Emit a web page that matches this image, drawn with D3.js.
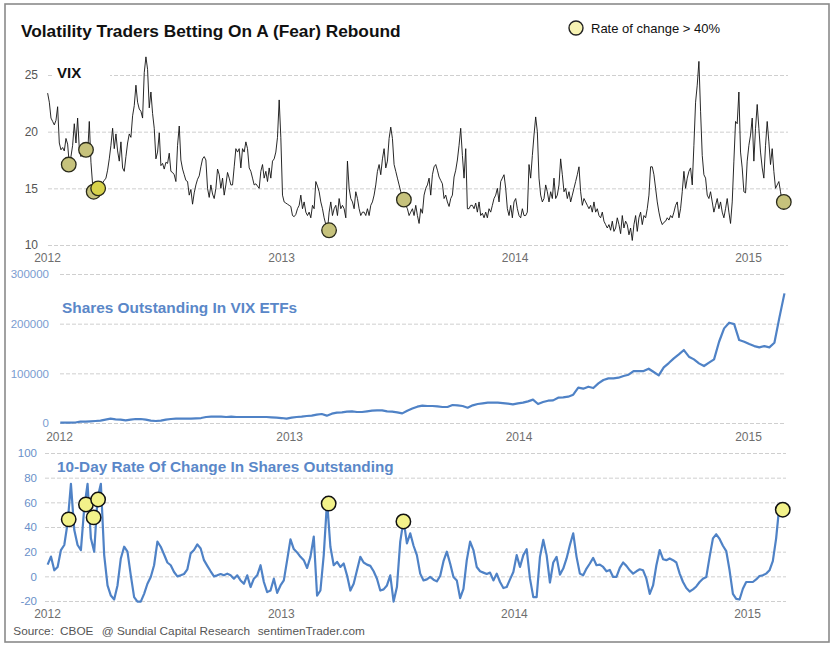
<!DOCTYPE html>
<html><head><meta charset="utf-8">
<script src="https://cdn.jsdelivr.net/npm/d3@7"></script>
<style>
html,body{margin:0;padding:0;background:#fff;}
svg{display:block;font-family:"Liberation Sans",Arial,Helvetica,sans-serif;}
</style></head><body>
<svg id="chart" width="835" height="647"></svg>
<script>
// ---------------- DATA ----------------
const yearTicks = ["2012-01-01", "2013-01-01", "2014-01-01", "2015-01-01"];

// VIX close, sampled every ~2.6 days from 2012-01-02
const vixStart = "2012-01-02";
const vixStepHours = 62.5;
const vixValues = [
23.4,22.6,21.2,20.9,20.6,21.0,22.2,19.0,18.4,18.6,
18.3,19.4,18.9,17.1,17.8,18.8,20.7,19.0,21.2,18.5,
17.8,18.6,18.0,18.4,18.0,20.9,17.3,15.3,14.8,15.2,
15.0,14.9,15.2,15.5,15.7,15.9,16.6,17.6,18.8,20.3,
18.5,19.8,18.3,17.4,19.1,16.8,16.5,17.8,19.0,19.8,
19.5,21.4,22.3,24.1,22.6,22.0,21.8,21.2,25.2,26.6,
25.5,22.1,23.5,21.6,20.3,17.6,18.2,19.9,17.0,17.2,
16.7,17.3,17.2,18.1,16.5,16.4,16.2,15.6,18.8,20.5,
17.5,16.7,16.2,15.7,15.6,14.4,14.9,13.6,14.6,15.3,
15.8,16.1,16.9,17.6,17.8,17.5,15.0,14.2,15.3,14.5,
14.1,15.0,16.7,16.2,15.0,15.9,14.4,15.3,16.4,15.9,
15.3,15.3,16.9,18.5,18.2,18.5,16.8,18.5,18.2,19.1,
18.5,16.8,16.5,15.9,15.3,15.4,15.2,15.0,16.5,17.1,
15.9,16.5,15.6,16.8,15.9,17.4,17.6,18.2,19.5,22.8,
19.5,14.4,13.8,13.7,13.6,13.5,13.4,12.6,12.5,12.7,
13.2,13.5,14.4,13.2,13.8,12.9,12.6,12.9,12.4,13.5,
13.2,15.6,15.2,14.7,13.8,13.2,12.4,11.8,11.3,12.9,
13.8,12.6,13.2,13.5,12.6,14.1,13.2,13.5,13.2,12.4,
17.4,15.0,14.1,13.8,13.2,14.7,14.1,13.2,12.6,12.9,
12.9,12.6,13.2,12.6,13.5,13.8,14.4,15.3,16.5,17.1,
16.2,17.6,18.5,16.8,17.4,19.4,20.4,19.4,17.1,16.5,
15.9,15.3,14.7,14.1,14.0,13.5,13.2,12.6,12.9,13.2,12.6,13.5,
12.6,11.9,13.2,12.8,14.4,15.0,15.3,15.9,14.4,16.2,
16.9,17.1,16.6,16.0,15.7,15.4,14.1,14.4,13.8,13.4,
14.1,14.4,16.0,16.6,17.5,18.8,20.3,17.9,15.9,18.5,
13.2,13.2,13.5,13.5,13.2,13.7,12.9,13.8,12.6,12.8,
12.4,12.9,12.4,13.2,12.9,13.5,14.1,14.4,15.0,13.8,
15.6,15.9,16.2,15.0,13.2,12.6,13.5,12.4,13.8,14.1,
13.2,12.6,12.4,13.2,12.6,12.6,12.9,17.1,15.9,17.9,
19.7,21.3,20.0,15.9,14.4,13.8,14.1,15.3,14.7,13.8,
14.7,14.1,15.9,14.1,14.4,15.3,17.6,16.2,14.7,15.0,
14.1,14.7,13.8,14.4,15.0,15.6,16.2,16.9,14.7,13.5,
14.1,13.8,13.5,13.2,13.5,12.9,13.8,12.9,13.2,12.6,
12.4,12.9,12.1,11.8,11.5,11.8,11.3,12.1,11.2,11.5,
12.4,11.8,11.0,12.6,11.5,12.1,11.8,10.9,11.5,10.4,
11.8,12.6,11.2,12.4,12.9,11.8,12.6,12.4,13.2,14.4,
16.9,16.9,16.2,15.0,13.8,12.9,12.2,11.8,12.0,12.1,
12.4,12.2,12.6,12.4,12.9,13.5,13.8,12.4,13.2,14.7,
16.5,15.0,15.9,16.5,16.8,15.3,18.8,22.6,24.1,26.2,
21.8,17.9,16.2,15.9,14.4,14.1,14.7,13.8,12.9,13.5,
14.1,13.2,13.8,12.9,12.4,13.2,14.1,12.9,11.9,13.8,
17.4,20.9,20.7,23.5,18.2,16.8,14.7,14.6,17.4,18.8,
19.7,21.2,17.4,20.3,22.4,20.3,18.2,16.8,15.9,18.8,
20.9,19.1,17.1,18.5,16.5,15.0,15.3,15.6,14.7,13.8
];

// Shares outstanding in VIX ETFs (thousands), every 8 days from 2012-01-03
const sharesStart = "2012-01-03";
const sharesStepDays = 8;
const sharesValues = [
0.7,0.7,0.8,1.0,2.7,2.7,3.4,4.0,4.7,6.7,
8.7,7.4,6.7,5.4,6.7,8.0,8.0,6.7,4.7,4.0,
4.7,6.7,8.0,8.7,8.7,8.7,8.7,9.4,10.0,12.1,
12.7,12.7,12.7,12.1,12.7,12.1,12.1,12.1,12.1,12.1,
12.1,12.1,11.4,10.7,10.0,8.7,10.7,12.1,12.7,14.1,
14.8,16.8,18.1,14.8,18.8,20.8,21.5,22.8,23.5,22.1,
22.1,23.5,24.8,25.5,25.5,23.5,22.8,21.5,19.4,24.8,
29.0,32.9,34.9,34.2,34.2,33.5,32.2,32.2,36.2,35.5,
34.2,30.8,35.5,38.2,39.6,40.9,40.9,40.9,40.2,38.9,
37.5,39.6,40.9,43.6,47.0,38.2,42.2,44.9,45.6,51.0,
51.6,53.0,57.0,71.1,69.1,73.1,70.4,79.8,86.5,89.9,
89.9,91.2,94.6,97.2,104.6,104.6,104.6,109.3,102.6,95.9,
112.0,120.7,130.1,138.1,146.9,133.5,128.1,120.1,114.7,121.4,
128.1,163.6,190.5,201.9,199.2,167.0,163.6,158.9,154.9,152.2,
154.9,152.2,161.6,212.6,261.0
];

// 10-day rate of change in shares outstanding (%), every ~5.2 days from 2012-01-02
const rocStart = "2012-01-02";
const rocStepHours = 125;
const rocValues = [
9.5,16,4.9,7.6,21.3,25.4,43.1,75,37.7,25.4,
21.3,55.4,75,30.8,20,63.6,75,17.2,-7.4,-15.6,
-18.8,-7.4,14.5,24,20,0.8,-16.9,-20.5,-20.5,-14.2,
-6,-0.5,9,28.1,24,17.7,11.2,9,3.5,0,
0.8,1.9,5.7,18.6,21.3,25.9,22.6,13.1,8.5,4.1,
0,0.8,1.9,0.8,2.2,0.8,-1.9,0.8,-3.3,-6,
0.8,-8.7,-1.9,0.8,9,-4.6,-12.8,-11.5,-1.9,-13.4,
-7.4,-3.3,13.1,30,22.1,19.4,15.8,13.1,6.8,15.8,
32.2,-15.6,-11.5,17.2,61,24,9,11.7,7.6,10.4,
0.8,-11.5,-6,4.9,15.8,11.2,9.5,8.5,4.1,-1.9,
-11.5,-10.6,-7.4,0.8,-20.5,-8.7,28.1,45.8,26.7,34.9,24.8,
17.2,2.2,-3.3,-2.5,-0.5,-2.7,-4.1,0.3,12.3,20,
10.4,-0.5,-3.3,-17.7,-10.1,13.1,28.1,21.3,7.6,4.1,
3,1.9,3,-3.3,2.2,-4.6,-9.5,-8.7,-2.5,3.5,
17.2,7.6,17.2,22,-1.9,-16.9,-16.9,15.8,29.5,17.2,
-5,11.2,15.8,1.4,6.3,14.5,25.4,34.9,15.8,2.2,
0.8,6.3,10.4,15,9,9.5,7.6,4.1,5.2,-0.5,
-0.5,6.8,11.2,8.5,4.9,2.2,4.1,5.7,4.9,-1.9,
-14.2,-7.4,9,21.3,13.9,13.1,14.5,13.1,11.2,2.2,
-4.6,-9.5,-12.3,-10.6,-8.2,-4.6,-1.9,-0.5,15.8,30.8,
34.1,30.3,24.8,20.5,4.9,-14.2,-18.3,-18.8,-10.1,-4.6,
-4.6,-4.6,-2.5,0.3,0.8,2.2,4.9,12.3,30.8,58.1
];

// Signals: 10-day rate of change > 40%
const markerDates = ["2012-02-04", "2012-03-02", "2012-03-14", "2012-03-21", "2013-03-17", "2013-07-12", "2015-02-26"];
const markerVix = [17.1, 18.4, 14.7, 15.0, 11.3, 14.0, 13.8];
const markerRoc = [46.2, 58.3, 47.8, 62.3, 59.0, 44.5, 54.0];

const vixTicks = [10, 15, 20, 25];
const sharesTicks = [0, 100, 200, 300];   // thousands
const rocTicks = [-20, 0, 20, 40, 60, 80, 100];

// ---------------- CHART ----------------
const parse = d3.timeParse("%Y-%m-%d");
const svg = d3.select("#chart");
const BLUE = "#4f82c6";
const FONT = '"Liberation Sans", Arial, Helvetica, sans-serif';

const vixData = vixValues.map((v, i) => ({date: d3.timeHour.offset(parse(vixStart), Math.round(i * vixStepHours)), v}));
const sharesData = sharesValues.map((v, i) => ({date: d3.timeDay.offset(parse(sharesStart), i * sharesStepDays), v}));
const rocData = rocValues.map((v, i) => ({date: d3.timeHour.offset(parse(rocStart), i * rocStepHours), v}));
const markers = markerDates.map((d, i) => ({date: parse(d), vix: markerVix[i], roc: markerRoc[i], i}));
const years = yearTicks.map(parse);

const xDomain = [parse("2012-01-01"), parse("2015-01-01")];
const xTop = d3.scaleTime().domain(xDomain).range([47, 748]);
const xMid = d3.scaleTime().domain(xDomain).range([59, 748]);
const xBot = d3.scaleTime().domain(xDomain).range([47, 747]);

const yVix = d3.scaleLinear().domain([10, 25]).range([245, 75]);
const yShares = d3.scaleLinear().domain([0, 300]).range([423, 274]);
const yRoc = d3.scaleLinear().domain([-20, 100]).range([601, 453]);

// outer frame
svg.append("rect").attr("x", 5).attr("y", 4).attr("width", 824).attr("height", 638)
  .attr("fill", "#fff").attr("stroke", "#8a8a8a").attr("stroke-width", 1.6);

function grid(scale, ticks, x0, x1, pad, fmt, color, fs) {
  const g = svg.append("g").attr("transform", `translate(${x0},0)`)
    .call(d3.axisLeft(scale).tickValues(ticks).tickSize(-(x1 - x0)).tickPadding(pad).tickFormat(fmt));
  g.attr("font-family", FONT).attr("font-size", fs);
  g.select(".domain").remove();
  g.selectAll(".tick line").attr("stroke", "#cfcfcf").attr("stroke-dasharray", "4,2");
  g.selectAll(".tick text").attr("fill", color);
  return g;
}
function xaxis(scale, y) {
  const g = svg.append("g").attr("transform", `translate(0,${y})`)
    .call(d3.axisBottom(scale).tickValues(years).tickFormat(d3.timeFormat("%Y")).tickSize(0).tickPadding(0));
  g.attr("font-family", FONT).attr("font-size", 12);
  g.select(".domain").remove();
  g.selectAll(".tick text").attr("y", 0).attr("dy", 0).attr("fill", "#6e6e6e");
  return g;
}

grid(yVix, vixTicks, 48, 788, 10, d => d, "#555", 12);
grid(yShares, sharesTicks, 60, 785, 11, d => d * 1000, "#7a9cd0", 11.5);
grid(yRoc, rocTicks, 45, 786, 8, d => d, "#6a90c9", 11.5);

xaxis(xTop, 262);
xaxis(xMid, 441);
xaxis(xBot, 618);

// VIX label with white backing
svg.append("rect").attr("x", 52).attr("y", 64).attr("width", 58).attr("height", 20).attr("fill", "#fff");
svg.append("text").attr("x", 57).attr("y", 78).attr("font-family", FONT).attr("font-weight", "bold")
  .attr("font-size", 15).attr("fill", "#111").text("VIX");

// lines
svg.append("path").datum(vixData).attr("fill", "none").attr("stroke", "#111").attr("stroke-width", 0.9)
  .attr("stroke-linejoin", "round")
  .attr("d", d3.line().x(d => xTop(d.date)).y(d => yVix(d.v)));
svg.append("path").datum(sharesData).attr("fill", "none").attr("stroke", BLUE).attr("stroke-width", 2.2)
  .attr("stroke-linejoin", "round")
  .attr("d", d3.line().x(d => xMid(d.date)).y(d => yShares(d.v)));
svg.append("path").datum(rocData).attr("fill", "none").attr("stroke", BLUE).attr("stroke-width", 2.2)
  .attr("stroke-linejoin", "round")
  .attr("d", d3.line().x(d => xBot(d.date)).y(d => yRoc(d.v)));

// markers
svg.append("g").selectAll("circle").data(markers).join("circle")
  .attr("cx", d => xTop(d.date)).attr("cy", d => yVix(d.vix)).attr("r", 7.3)
  .attr("fill", d => d.i === 3 ? "#d7d24a" : "#c6c27c").attr("stroke", "#2a2a1a").attr("stroke-width", 1.3);
svg.append("g").selectAll("circle").data(markers).join("circle")
  .attr("cx", d => xBot(d.date)).attr("cy", d => yRoc(d.roc)).attr("r", 7.2)
  .attr("fill", "#f3f28a").attr("stroke", "#111").attr("stroke-width", 1.5);

// titles
svg.append("text").attr("x", 21).attr("y", 36.5).attr("font-family", FONT).attr("font-weight", "bold")
  .attr("font-size", 17.3).attr("fill", "#111").text("Volatility Traders Betting On A (Fear) Rebound");
svg.append("text").attr("x", 62).attr("y", 312.7).attr("font-family", FONT).attr("font-weight", "bold")
  .attr("font-size", 15.4).attr("fill", "#5a87c8").text("Shares Outstanding In VIX ETFs");
svg.append("text").attr("x", 57).attr("y", 471.7).attr("font-family", FONT).attr("font-weight", "bold")
  .attr("font-size", 15.3).attr("fill", "#5a87c8").text("10-Day Rate Of Change In Shares Outstanding");

// legend
svg.append("circle").attr("cx", 576).attr("cy", 28).attr("r", 7).attr("fill", "#f7f3b3")
  .attr("stroke", "#222").attr("stroke-width", 1.4);
svg.append("text").attr("x", 591).attr("y", 33).attr("font-family", FONT).attr("font-size", 13)
  .attr("fill", "#111").text("Rate of change > 40%");

// source line
const src = [["Source:", 13.3], ["CBOE", 60], ["@ Sundial Capital Research", 101.7], ["sentimenTrader.com", 257.7]];
svg.append("g").selectAll("text").data(src).join("text")
  .attr("x", d => d[1]).attr("y", 635).attr("font-family", FONT).attr("font-size", 11.8)
  .attr("fill", "#555").text(d => d[0]);
</script>
</body></html>
